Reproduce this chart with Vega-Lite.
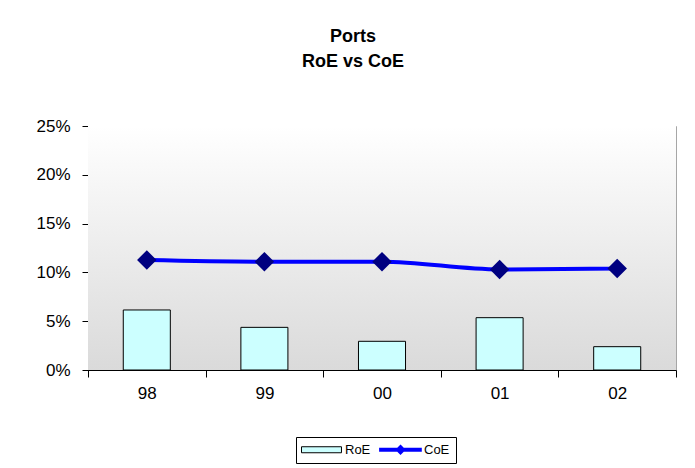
{
  "$schema": "https://vega.github.io/schema/vega-lite/v6.json",
  "autosize": "none",
  "width": 588,
  "height": 244,
  "padding": {"left": 88, "top": 126, "right": 19, "bottom": 98},
  "background": "white",
  "title": {
    "text": ["Ports", "RoE vs CoE"],
    "font": "Liberation Sans",
    "fontSize": 18,
    "fontWeight": "bold",
    "color": "black",
    "anchor": "middle",
    "frame": "group",
    "dx": -29,
    "lineHeight": 25,
    "offset": 46
  },
  "data": {
    "values": [
      {"year": "98", "RoE": 0.0615, "CoE": 0.1127},
      {"year": "99", "RoE": 0.0437, "CoE": 0.1110},
      {"year": "00", "RoE": 0.0294, "CoE": 0.1110},
      {"year": "01", "RoE": 0.0536, "CoE": 0.1030},
      {"year": "02", "RoE": 0.0239, "CoE": 0.1040}
    ]
  },
  "encoding": {
    "x": {
      "field": "year",
      "type": "nominal",
      "sort": null,
      "scale": {"paddingInner": 0, "paddingOuter": 0},
      "axis": {
        "title": null,
        "labelAngle": 0,
        "tickBand": "extent",
        "tickSize": 7,
        "labelPadding": 8
      }
    }
  },
  "layer": [
    {
      "data": {"values": [{}]},
      "mark": {
        "type": "rect",
        "fill": {
          "gradient": "linear",
          "x1": 0, "y1": 0, "x2": 0, "y2": 1,
          "stops": [
            {"offset": 0, "color": "#ffffff"},
            {"offset": 1, "color": "#dadada"}
          ]
        }
      },
      "encoding": {
        "x": null,
        "y": {"datum": 0.25, "type": "quantitative"},
        "y2": {"datum": 0}
      }
    },
    {
      "mark": {"type": "bar", "stroke": "black", "fillOpacity": 1, "width": {"band": 0.4}},
      "encoding": {
        "y": {
          "field": "RoE",
          "type": "quantitative",
          "scale": {"domain": [0, 0.25], "nice": false},
          "axis": {
            "title": null,
            "values": [0, 0.05, 0.1, 0.15, 0.2, 0.25],
            "format": ".0%",
            "grid": false,
            "tickSize": 6,
            "labelPadding": 12
          }
        },
        "fill": {
          "datum": "RoE",
          "scale": {"domain": ["RoE", "CoE"], "range": ["#ccffff", "#0000ff"]},
          "legend": {
            "title": null,
            "orient": "none",
            "legendX": 208,
            "legendY": 311,
            "direction": "horizontal",
            "columns": 2,
            "strokeColor": "black",
            "fillColor": "white",
            "padding": 6,
            "symbolSize": 196,
            "labelOffset": 30,
            "columnPadding": 8,
            "labelFont": "Liberation Sans",
            "labelFontSize": 13,
            "labelColor": "black",
            "symbolType": {"expr": "datum.value === 'RoE' ? 'M-1,-0.43H4.71V0.43H-1Z' : 'M-1.2,-0.3H4.9V0.3H-1.2Z M1.86,-0.75L2.61,0L1.86,0.75L1.11,0Z'"},
            "symbolStrokeColor": "black",
            "symbolStrokeWidth": {"expr": "datum.value === 'RoE' ? 1 : 0"},
            "symbolOpacity": 1
          }
        }
      }
    },
    {
      "mark": {"type": "line", "strokeWidth": 4, "interpolate": "monotone", "color": "#0000ff"},
      "encoding": {
        "y": {"field": "CoE", "type": "quantitative"}
      }
    },
    {
      "mark": {"type": "point", "shape": "diamond", "filled": true, "size": 380, "opacity": 1, "color": "#000080"},
      "encoding": {
        "y": {"field": "CoE", "type": "quantitative"}
      }
    }
  ],
  "config": {
    "view": {"stroke": "#a6a6a6", "strokeWidth": 1},
    "axis": {
      "domainColor": "black",
      "tickColor": "black",
      "labelColor": "black",
      "labelFont": "Liberation Sans",
      "labelFontSize": 17
    }
  }
}
